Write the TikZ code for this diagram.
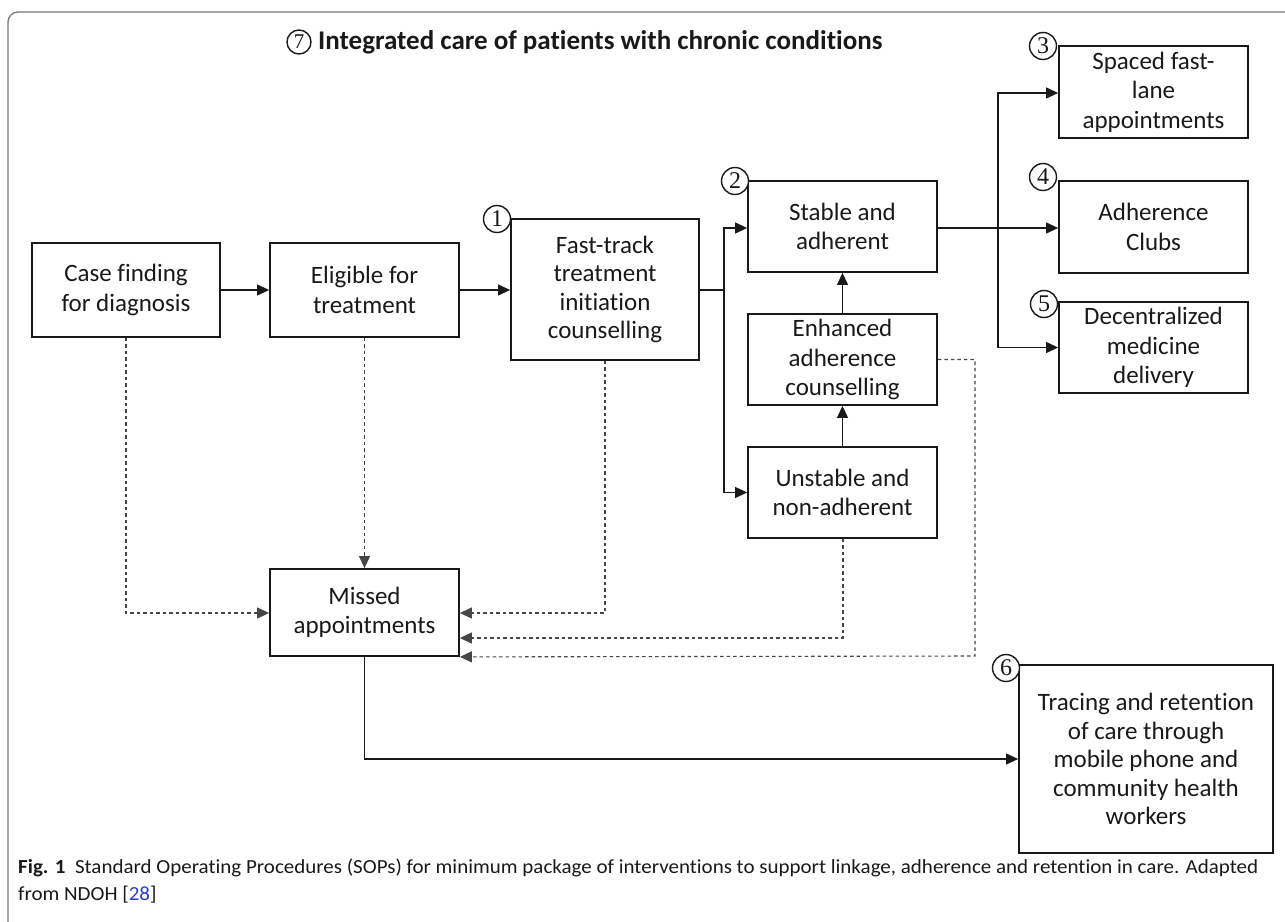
\documentclass[tikz,border=0pt]{standalone}
\usepackage{fontspec}
\setmainfont{Carlito}[Ligatures=NoCommon]
\newfontfamily\numfont{Liberation Serif}
\usetikzlibrary{arrows.meta,calc}
\definecolor{ink}{RGB}{25,25,25}
\definecolor{dashink}{RGB}{70,70,70}
\definecolor{framegray}{RGB}{120,120,120}
\definecolor{refblue}{RGB}{40,60,200}
\tikzset{
  box/.style={draw=ink,line width=1.8pt,align=center,inner sep=2pt,
    font=\fontsize{25}{29.5}\selectfont,text=ink},
  conn/.style={draw=ink,line width=1.1pt,-{Triangle[length=12pt,width=11pt]}},
  plain/.style={draw=ink,line width=1.1pt},
  dconn/.style={draw=dashink,line width=1.1pt,dash pattern=on 3.5pt off 3pt,-{Triangle[length=12pt,width=11pt]}},
  circnum/.style={draw=ink,circle,line width=1.4pt,minimum size=27pt,inner sep=0pt,
    font=\numfont\fontsize{24}{24}\selectfont,text=ink,fill=white}
}
\begin{document}
\begin{tikzpicture}[x=1pt,y=-1pt]
\useasboundingbox (0,0) rectangle (1285,921);
\draw[framegray,line width=1.3pt,rounded corners=10pt] (8,12) rectangle (1310,940);

\node[anchor=west,inner sep=0pt,font=\bfseries\fontsize{27}{30}\selectfont,text=ink] (title) at (318,42)
  {Integrated care of patients with chronic conditions};
\node[circnum,minimum size=24pt,font=\numfont\fontsize{21}{21}\selectfont] (n7) at (299,42) {7};

\node[box,minimum width=188pt,minimum height=94pt] (case) at (126,290) {Case finding\\for diagnosis};
\node[box,minimum width=189pt,minimum height=94pt] (elig) at (364.5,290) {Eligible for\\treatment};
\node[box,minimum width=188pt,minimum height=141pt,font=\fontsize{25}{28.5}\selectfont] (fast) at (605,289.5) {Fast-track\\treatment\\initiation\\counselling};
\node[box,minimum width=189pt,minimum height=91pt] (stable) at (842.5,226.5) {Stable and\\adherent};
\node[box,minimum width=189pt,minimum height=91pt] (enh) at (842.5,359.5) {Enhanced\\adherence\\counselling};
\node[box,minimum width=189pt,minimum height=91pt] (unst) at (842.5,492.5) {Unstable and\\non-adherent};
\node[box,minimum width=189pt,minimum height=92pt] (spaced) at (1153.5,92) {Spaced fast-\\lane\\appointments};
\node[box,minimum width=189pt,minimum height=92pt] (clubs) at (1153.5,227) {Adherence\\Clubs};
\node[box,minimum width=189pt,minimum height=91pt] (dec) at (1153.5,347.5) {Decentralized\\medicine\\delivery};
\node[box,minimum width=189pt,minimum height=87pt] (missed) at (364.5,612.5) {Missed\\appointments};
\node[box,minimum width=254pt,minimum height=188pt,font=\fontsize{25}{28.5}\selectfont] (trace) at (1146,759)
  {Tracing and retention\\of care through\\mobile phone and\\community health\\workers};

% circled numbers
\node[circnum] (n1) at (497,219) {1};
\node[circnum] (n2) at (735,181) {2};
\node[circnum] (n3) at (1043,46) {3};
\node[circnum] (n4) at (1043,177) {4};
\node[circnum] (n5) at (1044,304) {5};
\node[circnum] (n6) at (1006,668) {6};

% solid connectors
\draw[conn] (case.east) -- (elig.west);
\draw[conn] (elig.east) -- (fast.west |- elig.east);
\coordinate (j1) at (724,290);
\draw[plain] (fast.east |- j1) -- (j1);
\draw[conn] (j1) -- (j1 |- 0,228) -- (stable.west |- 0,228);
\draw[conn] (j1) -- (j1 |- unst.west) -- (unst.west);
\draw[conn] (enh.north) -- (stable.south);
\draw[conn] (unst.north) -- (enh.south);
\coordinate (j2) at (998,228);
\draw[conn] (stable.east |- j2) -- (clubs.west |- j2);
\draw[conn] (j2) -- (j2 |- 0,93) -- (spaced.west |- 0,93);
\draw[conn] (j2) -- (j2 |- dec.west) -- (dec.west);
\coordinate (m1) at (364.5,759);
\draw[conn] (missed.south) -- (m1) -- (trace.west);

% dashed connectors
\coordinate (d1) at (126,613);
\draw[dconn] (case.south) -- (d1) -- (missed.west |- d1);
\draw[dconn] (elig.south) -- (missed.north);
\coordinate (d2) at (605,613);
\draw[dconn] (fast.south) -- (d2) -- (missed.east |- d2);
\coordinate (d3) at (843,638);
\draw[dconn] (unst.south -| d3) -- (d3) -- (missed.east |- d3);
\coordinate (d4) at (975,656);
\draw[dconn] (enh.east) -- (enh.east -| d4) -- (d4) -- (missed.south east);

% caption
\node[anchor=north west,align=left,inner sep=0pt,text=ink,font=\fontsize{20}{27}\selectfont] (cap) at (18,859)
  {\scalebox{1.05}[1]{\textbf{Fig. 1}\ \ Standard Operating Procedures (SOPs) for minimum package of interventions to support linkage, adherence and retention in care. Adapted}\\
   \scalebox{1.05}[1]{from NDOH [\textcolor{refblue}{28}]}};
\end{tikzpicture}
\end{document}
